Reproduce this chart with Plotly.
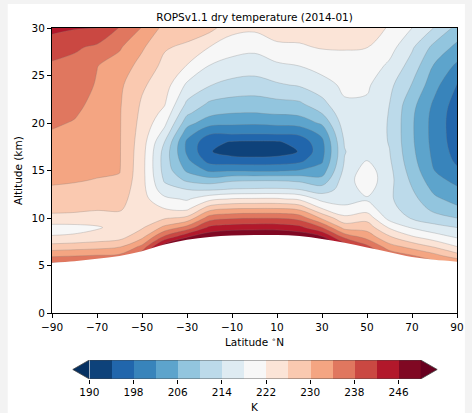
import plotly.graph_objects as go

# ---------------- data ----------------
lats = [-90, -80, -70, -60, -50, -40, -30, -20, -10, 0, 10, 20, 30, 40, 50, 60, 70, 80, 90]
alts = [5, 6, 7, 8, 9, 10, 11, 12, 13, 14, 15, 16, 17, 18, 19, 20, 21, 22, 24, 26, 28, 30]

# temperature (K) profiles at each latitude, listed bottom (5 km) to top (30 km)
T_S90 = [240, 233.5, 227.5, 222.3, 220.5, 225, 227, 228.3, 229.6, 230.5, 231.1, 231.8, 232.5, 233.1, 233.8, 234.4, 234.9, 235.5, 236.5, 237.3, 240, 243]
T_S80 = [240, 234, 228, 222.6, 220.8, 224.6, 227, 228.4, 229.5, 230.2, 230.9, 231.5, 232.1, 232.7, 233.2, 233.8, 234.3, 234.8, 235.8, 236.8, 238.6, 242.3]
T_S70 = [240, 234.5, 228.5, 223.5, 221.6, 224, 226.5, 228, 229.2, 229.9, 230.4, 230.8, 231.2, 231.6, 232, 232.4, 232.8, 233.1, 233.7, 234.1, 237.3, 242]
T_S60 = [241, 235, 229.5, 224.5, 223.2, 224.8, 226.5, 227.5, 228.5, 229.5, 230.2, 230.3, 230.3, 230.3, 230.3, 230.3, 230.3, 230.4, 230.8, 232.3, 234.5, 237.8]
T_S50 = [246, 241.5, 235, 229, 225.5, 224.2, 223.6, 223.4, 223.3, 223.3, 223.3, 223.4, 223.6, 223.9, 224.3, 224.7, 225.1, 225.5, 226.6, 228.5, 230.6, 233.8]
T_S40 = [262, 256, 249, 239, 231, 225.5, 222, 219, 215.5, 213.5, 212.5, 212.2, 212.5, 214, 216.8, 219, 220.8, 222.3, 223.8, 225, 226.4, 228.8]
T_S30 = [264, 258, 252, 245.8, 235.5, 227, 221, 217.5, 214, 209.2, 205.3, 203, 201.3, 201.2, 204, 207.6, 210.6, 213.2, 217.3, 221.8, 225.3, 228]
T_S20 = [265, 259, 253.5, 249, 243, 236, 228.2, 220.8, 213.5, 207.7, 201.3, 196.6, 194.3, 195.1, 198.8, 203.5, 207, 209.3, 214.2, 217.8, 222, 227.3]
T_S10 = [263, 258.5, 254, 250.2, 244.2, 237.5, 229.8, 222.3, 214.3, 209.3, 201.5, 196, 192.1, 193.7, 198.9, 202.8, 205.9, 208.4, 212.8, 216.3, 219.8, 223.3]
T_EQ = [262, 258, 254, 250.3, 244.5, 237.8, 230, 222.5, 214.5, 209.6, 201.3, 195.8, 191.6, 193.5, 198.8, 202.6, 205.8, 208.2, 212.4, 215.8, 219.1, 222.8]
T_N10 = [262, 258, 254, 250.3, 244.5, 237.8, 230, 222.5, 214.6, 209.6, 201.4, 196, 192, 193.6, 199, 203, 206.3, 208.8, 213.5, 217.2, 221.2, 224]
T_N20 = [261, 257, 253, 249.3, 243.2, 236.5, 228.8, 221.3, 214, 209, 202.3, 197.1, 194.2, 195.3, 199.2, 203.6, 206.8, 209.3, 214.4, 218, 221.6, 223.5]
T_N30 = [258, 254, 250, 246.8, 238, 229.2, 222, 216.7, 212, 207.3, 203.8, 201.5, 200.6, 201, 203.2, 206.7, 210, 212.7, 216.4, 219.5, 222.3, 223.7]
T_N40 = [256, 251, 245, 237, 228.5, 223, 219, 216.3, 215.6, 216, 215, 214.2, 213.8, 214.3, 215.2, 216, 216.8, 217.5, 218.8, 220.5, 222.3, 223.5]
T_N50 = [250, 245, 239, 232.5, 228.3, 224.5, 220, 217.5, 219.5, 220.5, 220, 218.2, 216.8, 216.3, 216.3, 216.5, 217, 217.4, 218.6, 220.3, 222.1, 223]
T_N60 = [244, 237.5, 231.5, 226.5, 221.5, 216.5, 215, 214.6, 214.8, 215.2, 215, 214.5, 214.1, 213.8, 213.7, 213.7, 213.8, 214, 215, 217.2, 219.6, 221.8]
T_N70 = [241, 234.5, 228.5, 222.5, 217.6, 213.6, 212.5, 211.3, 210.2, 209.2, 208.2, 207.4, 206.9, 206.6, 206.5, 206.5, 206.7, 207.3, 209.8, 212.3, 214.6, 218]
T_N80 = [237, 231.5, 225.5, 219.8, 215.5, 211.5, 208.8, 206.8, 205, 203.4, 202, 201.2, 200.8, 200.5, 200.4, 200.4, 200.6, 201.2, 203.3, 205.5, 208.8, 213.8]
T_N90 = [236, 227.8, 222, 217.6, 214, 210, 206.8, 204.5, 202.7, 200.8, 198.7, 197.3, 196.5, 196, 195.8, 195.7, 195.8, 196.2, 197.8, 201.2, 205, 208.8]

# lowest altitude with data (km) at each latitude
floor_km = [5.3, 5.45, 5.7, 6.0, 6.5, 7.2, 7.7, 8.0, 8.15, 8.2, 8.2, 8.1, 7.8, 7.4, 6.9, 6.4, 5.9, 5.6, 5.4]

level_start, level_end, level_step = 190, 250, 4
cbar_ticks = [190, 198, 206, 214, 222, 230, 238, 246]
x_ticks = [-90, -70, -50, -30, -10, 10, 30, 50, 70, 90]
y_ticks = [0, 5, 10, 15, 20, 25, 30]

# ---------------- build ----------------
columns = [T_S90, T_S80, T_S70, T_S60, T_S50, T_S40, T_S30, T_S20, T_S10, T_EQ,
           T_N10, T_N20, T_N30, T_N40, T_N50, T_N60, T_N70, T_N80, T_N90]
z = [[col[i] for col in columns] for i in range(len(alts))]

levels = list(range(level_start, level_end + 1, level_step))
n_bands = len(levels) - 1

rdbu_r = ['#053061', '#2166ac', '#4393c3', '#92c5de', '#d1e5f0', '#f7f7f7',
          '#fddbc7', '#f4a582', '#d6604d', '#b2182b', '#67001f']


def hex2rgb(h):
    h = h.lstrip('#')
    return [int(h[i:i + 2], 16) for i in (0, 2, 4)]


def cmap(p):
    p = min(max(p, 0.0), 1.0)
    seg = p * (len(rdbu_r) - 1)
    i = min(int(seg), len(rdbu_r) - 2)
    f = seg - i
    a, b = hex2rgb(rdbu_r[i]), hex2rgb(rdbu_r[i + 1])
    c = [round(a[k] + (b[k] - a[k]) * f) for k in range(3)]
    return 'rgb(%d,%d,%d)' % tuple(c)


band_colors = [cmap((k + 0.5) / n_bands) for k in range(n_bands)]
under_color, over_color = cmap(0.0), cmap(1.0)
all_colors = [under_color] + band_colors + [over_color]
colorscale = [[i / (len(all_colors) - 1), c] for i, c in enumerate(all_colors)]

font_family = 'DejaVu Sans'
W, H = 472, 413
ML, MR, MT, MB = 52, 8, 28, 34
plot_w = W - ML - MR
plot_h = H - MT - MB
main_bottom_px = 313
cbar_top_px, cbar_bot_px = 360, 379
main_dom = [(H - MB - main_bottom_px) / plot_h, 1.0]
cbar_dom = [0.0, (cbar_bot_px - cbar_top_px) / plot_h]

# colorbar horizontal geometry (pixels)
cb_left_px, cb_right_px = 90, 427
px_per_k = (cb_right_px - cb_left_px) / (level_end - level_start)
ext = 3.0
x2_range = [level_start - ext - 0.2, level_end + ext + 0.2]
x2_dom = [(cb_left_px + (x2_range[0] - level_start) * px_per_k - ML) / plot_w,
          (cb_left_px + (x2_range[1] - level_start) * px_per_k - ML) / plot_w]

fig = go.Figure()

fig.add_trace(go.Contour(
    x=lats, y=alts, z=z,
    autocontour=False,
    contours=dict(start=level_start, end=level_end, size=level_step, coloring='fill'),
    colorscale=colorscale, showscale=False,
    line=dict(width=0.6, color='rgba(120,120,120,0.45)', smoothing=1.0),
    hoverinfo='skip', xaxis='x', yaxis='y'))

# region without data
fig.add_trace(go.Scatter(
    x=lats, y=floor_km, mode='lines', fill='tozeroy', fillcolor='white',
    line=dict(color='white', width=0, shape='spline'),
    hoverinfo='skip', showlegend=False, xaxis='x', yaxis='y'))

# colorbar bands
fig.add_trace(go.Bar(
    x=[level_step] * n_bands, base=levels[:-1], y=[0] * n_bands, orientation='h',
    width=1, marker=dict(color=band_colors, line=dict(width=0)),
    hoverinfo='skip', showlegend=False, xaxis='x2', yaxis='y2'))
# extension triangles
fig.add_trace(go.Scatter(
    x=[level_start, level_start - ext, level_start, level_start], y=[-0.5, 0, 0.5, -0.5],
    mode='lines', fill='toself', fillcolor=under_color, line=dict(width=0),
    hoverinfo='skip', showlegend=False, xaxis='x2', yaxis='y2'))
fig.add_trace(go.Scatter(
    x=[level_end, level_end + ext, level_end, level_end], y=[-0.5, 0, 0.5, -0.5],
    mode='lines', fill='toself', fillcolor=over_color, line=dict(width=0),
    hoverinfo='skip', showlegend=False, xaxis='x2', yaxis='y2'))
# colorbar outline
fig.add_trace(go.Scatter(
    x=[level_start, level_start - ext, level_start, level_end, level_end + ext, level_end, level_start],
    y=[0.5, 0, -0.5, -0.5, 0, 0.5, 0.5],
    mode='lines', line=dict(color='#444444', width=0.8),
    hoverinfo='skip', showlegend=False, xaxis='x2', yaxis='y2'))

tick_font = dict(family=font_family, size=10.5, color='black')


def fmt(v):
    return ('\u2212' + str(abs(v))) if v < 0 else str(v)


fig.update_layout(
    width=W, height=H,
    margin=dict(l=ML, r=MR, t=MT, b=MB, pad=0),
    paper_bgcolor='#f3f3f3', plot_bgcolor='white',
    showlegend=False,
    font=dict(family=font_family, size=10.5, color='black'),
    title=dict(text='ROPSv1.1 dry temperature (2014-01)', x=0.5, xref='paper', xanchor='center',
               y=1 - 17 / H, yref='container', yanchor='middle',
               font=dict(family=font_family, size=10.5, color='black')),
    xaxis=dict(domain=[0, 1], range=[-90, 90], anchor='y',
               tickmode='array', tickvals=x_ticks, ticktext=[fmt(v) for v in x_ticks],
               ticks='outside', ticklen=4, tickwidth=1, tickcolor='black',
               showline=True, linecolor='black', linewidth=1, mirror=True,
               showgrid=False, zeroline=False, tickfont=tick_font),
    yaxis=dict(domain=main_dom, range=[0, 30], anchor='x',
               tickmode='array', tickvals=y_ticks, ticktext=[str(v) for v in y_ticks],
               ticks='outside', ticklen=4, tickwidth=1, tickcolor='black',
               showline=True, linecolor='black', linewidth=1, mirror=True,
               showgrid=False, zeroline=False, tickfont=tick_font),
    xaxis2=dict(domain=x2_dom, range=x2_range, anchor='y2',
                tickmode='array', tickvals=cbar_ticks, ticktext=[str(v) for v in cbar_ticks],
                ticks='outside', ticklen=3.5, tickwidth=0.8, tickcolor='black',
                showline=False, showgrid=False, zeroline=False, tickfont=tick_font),
    yaxis2=dict(domain=cbar_dom, range=[-0.5, 0.5], anchor='x2',
                showticklabels=False, ticks='', showline=False, showgrid=False, zeroline=False),
    bargap=0,
    shapes=[dict(type='rect', xref='paper', yref='paper', layer='below',
                 x0=(7 - ML) / plot_w, x1=(W - ML) / plot_w,
                 y0=(H - MB - H) / plot_h, y1=(H - MB - 4) / plot_h,
                 fillcolor='white', line=dict(width=0))],
    annotations=[
        dict(text='Altitude (km)', textangle=-90, xref='paper', yref='paper',
             x=(17 - ML) / plot_w, y=(main_dom[0] + main_dom[1]) / 2,
             xanchor='center', yanchor='middle', showarrow=False,
             font=dict(family=font_family, size=10.5, color='black')),
        dict(text='Latitude <sup>\u2218</sup>N', xref='paper', yref='paper',
             x=0.5, y=(H - MB - 341) / plot_h, xanchor='center', yanchor='middle',
             showarrow=False, font=dict(family=font_family, size=10.5, color='black')),
        dict(text='K', xref='paper', yref='paper',
             x=(258.5 - ML) / plot_w, y=(H - MB - 407) / plot_h, xanchor='center', yanchor='middle',
             showarrow=False, font=dict(family=font_family, size=10.5, color='black')),
    ],
)

fig.write_html('out.html')
